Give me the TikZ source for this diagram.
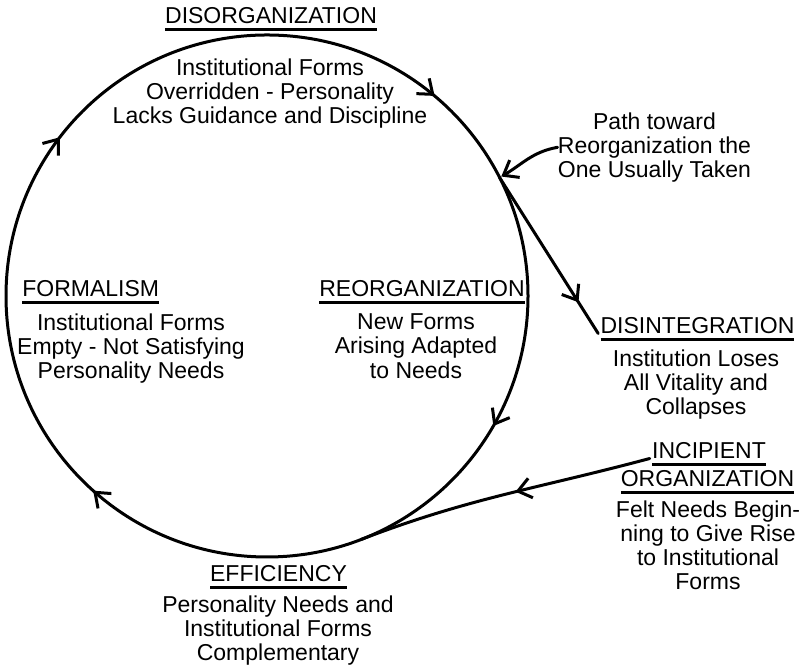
\documentclass[tikz,border=0pt]{standalone}
\usepackage{fontspec}
\setmainfont{Liberation Sans}
\usetikzlibrary{arrows.meta,decorations.markings}
\newcommand\headtext[1]{\vtop{\hbox{#1}\kern2pt\hrule height1.4pt}}

\begin{document}
\begin{tikzpicture}[x=0.5pt, y=0.5pt,
	font=\fontsize{11.5}{12.1}\selectfont,
	>={Straight Barb[length=6.5pt,width=10pt]},
	line/.style={line width=1.5pt, line cap=round},
	title/.style={anchor=base, inner sep=1pt},
	body/.style={anchor=north, align=center, inner sep=0pt},
	midarrow/.style={postaction={decorate, decoration={markings, mark=at position #1 with {\arrow{>}}}}},
	cyclearrows/.style={postaction={decorate, decoration={markings,
		mark=at position 0.111 with {\arrow{>}}, mark=at position 0.333 with {\arrow{>}},
		mark=at position 0.616 with {\arrow{>}}, mark=at position 0.854 with {\arrow{>}}}}}]
	% Paths, nodes and wires:
	\useasboundingbox (0,0) rectangle (802,667);
	\coordinate (cyc) at (267,371);
	\coordinate (brpt) at ([shift={(27:261)}]cyc);
	\coordinate (jn) at ([shift={(-69:261)}]cyc);
	\node[title] (t_disorg) at (271,643.5) {\headtext{DISORGANIZATION}};
	\node[body] (b_disorg) at (270,608.6) {Institutional Forms\\Overridden - Personality\\Lacks Guidance and Discipline};
	\node[title, anchor=base west] (t_formal) at (20,370) {\headtext{FORMALISM}};
	\node[body] (b_formal) at (131,353.6) {Institutional Forms\\Empty - Not Satisfying\\Personality Needs};
	\node[title] (t_reorg) at (422,370) {\headtext{REORGANIZATION}};
	\node[body] (b_reorg) at (416,353.6) {New Forms\\Arising Adapted\\to Needs};
	\node[title] (t_disint) at (697.5,333.5) {\headtext{DISINTEGRATION}};
	\node[body] (b_disint) at (696,318) {Institution Loses\\All Vitality and\\Collapses};
	\node[title] (t_incip) at (709,208.5) {\headtext{INCIPIENT}};
	\node[title] (t_organ) at (707.5,180.5) {\headtext{ORGANIZATION}};
	\node[body] (b_incip) at (708,167) {Felt Needs Begin-\\ning to Give Rise\\to Institutional\\Forms};
	\node[title] (t_effic) at (278.5,85) {\headtext{EFFICIENCY}};
	\node[body] (b_effic) at (278,71.6) {Personality Needs and\\Institutional Forms\\Complementary};
	\node[body] (pathnote) at (654.5,555) {Path toward\\Reorganization the\\One Usually Taken};
	\draw[line, cyclearrows] ([shift={(90:261)}]cyc) arc[start angle=90, delta angle=-360, radius=261];
	\draw[line, midarrow=0.8] (brpt) -- (t_disint.base west);
	\draw[line, midarrow=0.46] (t_incip.base west) to[out=195, in=21] (jn);
	\draw[line, ->, shorten >=1pt] (pathnote.west) to[out=190, in=30] (brpt);
\end{tikzpicture}
\end{document}
